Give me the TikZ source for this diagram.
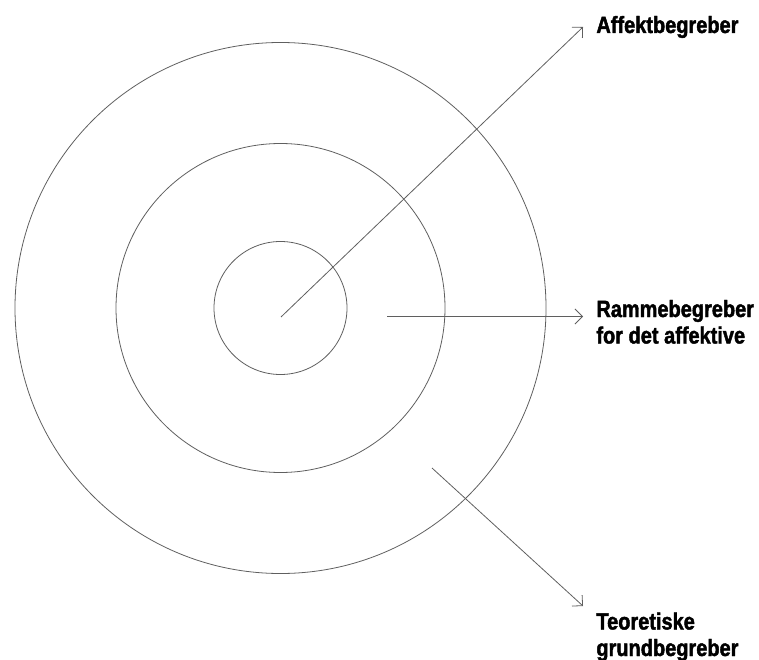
\documentclass[tikz,border=0pt]{standalone}
\usepackage{fontspec}
\setmainfont[FakeStretch=0.85,BoldFeatures={FakeBold=1.8}]{Liberation Sans}
\usepackage{tikz}
\usetikzlibrary{arrows.meta}
\usepackage{xcolor}
\definecolor{cgraa}{RGB}{95,95,95}

\begin{document}
\begin{tikzpicture}[x=1pt, y=-1pt, >={Straight Barb[length=7.5pt,width=15pt]},
  line width=0.8pt,
  ring/.style={draw=cgraa},
  pil/.style={->, draw=cgraa},
  etiket/.style={anchor=base west, align=left, inner sep=0pt,
    font=\fontsize{23.5}{26.5}\selectfont\bfseries}]
\useasboundingbox (0,0) rectangle (759,660);
% cirkler
\coordinate (C) at (280.5,308);
\draw[ring] (C) circle[radius=265.5pt];
\draw[ring] (C) circle[radius=164.5pt];
\draw[ring] (C) circle[radius=66.5pt];
% etiketter (base = sidste linje)
\node[etiket] (affekt) at (596,33) {Affektbegreber};
\node[etiket] (ramme) at (596,343.5) {Rammebegreber\\for det affektive};
\node[etiket] (teori) at (596,656) {Teoretiske\\grundbegreber};
% pile
\coordinate (a1) at (281,317);
\coordinate (a2) at (583,27);
\coordinate (b1) at (387,316.5);
\coordinate (b2) at (583,316.5);
\coordinate (c1) at (432,468);
\coordinate (c2) at (583,606);
\draw[pil] (a1) -- (a2);
\draw[pil] (b1) -- (b2);
\draw[pil] (c1) -- (c2);
\end{tikzpicture}
\end{document}
